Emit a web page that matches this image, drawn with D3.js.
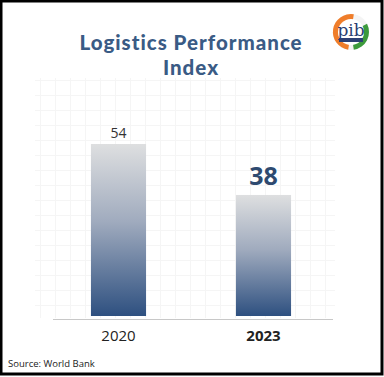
<!DOCTYPE html>
<html><head><meta charset="utf-8">
<script src="https://cdn.jsdelivr.net/npm/d3@7"></script>
<style>html,body{margin:0;padding:0;background:#fff;}svg{display:block;}</style>
</head><body>
<script>
const years = ["2020", "2023"];
const values = [54, 38];
const title = ["Logistics Performance", "Index"];
const source = "Source: World Bank";

const W = 384, H = 377;
const svg = d3.select("body").append("svg").attr("width", W).attr("height", H);
svg.append("rect").attr("x",0).attr("y",0).attr("width",W).attr("height",H).attr("fill","#fff");

// faint grid background
const grid = svg.append("g").attr("stroke","#f5f5f5").attr("stroke-width",1);
d3.range(40, 335, 15).forEach(x => grid.append("line").attr("x1",x+0.5).attr("x2",x+0.5).attr("y1",78).attr("y2",318));
d3.range(80, 320, 15).forEach(y => grid.append("line").attr("x1",35).attr("x2",335).attr("y1",y+0.5).attr("y2",y+0.5));

const defs = svg.append("defs");
const grad = defs.append("linearGradient").attr("id","barGrad").attr("x1",0).attr("y1",0).attr("x2",0).attr("y2",1);
grad.append("stop").attr("offset","0%").attr("stop-color","#dedfe0");
grad.append("stop").attr("offset","45%").attr("stop-color","#a0abbe");
grad.append("stop").attr("offset","100%").attr("stop-color","#2e5080");

const x = d3.scaleBand().domain(years).range([46, 336]).paddingInner(0.62).paddingOuter(0.31);
const y = d3.scaleLinear().domain([0, 54]).range([316, 144]);

svg.selectAll("rect.bar").data(years).join("rect").attr("class","bar")
  .attr("x", d => x(d)).attr("width", x.bandwidth())
  .attr("y", (d,i) => y(values[i])).attr("height", (d,i) => y(0) - y(values[i]))
  .attr("fill","url(#barGrad)");

// baseline
svg.append("line").attr("x1",53).attr("x2",333).attr("y1",319.5).attr("y2",319.5).attr("stroke","#c8c8c8").attr("stroke-width",1.2);

// value labels
svg.selectAll("text.val").data(years).join("text").attr("class","val")
  .attr("x", d => x(d) + x.bandwidth()/2)
  .attr("y", (d,i) => i === 0 ? y(values[i]) - 6 : y(values[i]) - 10)
  .attr("text-anchor","middle")
  .attr("font-family","'Open Sans', sans-serif")
  .attr("font-size", (d,i) => i === 0 ? 14 : 25)
  .attr("font-weight", (d,i) => i === 0 ? 400 : 700)
  .attr("fill", (d,i) => i === 0 ? "#333" : "#2e4a70")
  .text((d,i) => values[i]);

// x axis labels
svg.selectAll("text.cat").data(years).join("text").attr("class","cat")
  .attr("x", d => x(d) + x.bandwidth()/2).attr("y", 341)
  .attr("text-anchor","middle")
  .attr("font-family","'Open Sans', sans-serif")
  .attr("font-size",15)
  .attr("font-weight",(d,i)=> i===1?700:400)
  .attr("fill","#222")
  .text(d => d);

// title
svg.selectAll("text.title").data(title).join("text").attr("class","title")
  .attr("x",191).attr("y",(d,i)=>50+i*25)
  .attr("text-anchor","middle")
  .attr("font-family","Lato, sans-serif")
  .attr("font-weight",900).attr("font-size",20.5)
  .attr("letter-spacing","1")
  .attr("fill","#3a5b85").text(d=>d);

// source
svg.append("text").attr("x",8).attr("y",367)
  .attr("font-family","'Open Sans', sans-serif").attr("font-size",9.5).attr("fill","#222").text(source);

// logo
const logo = svg.append("g").attr("transform","translate(351,32)");
logo.append("circle").attr("r",18).attr("fill","#f4f4f4");
const arc = d3.arc().innerRadius(12).outerRadius(18);
logo.append("path").attr("d",arc({startAngle:-Math.PI*0.95,endAngle:Math.PI*0.05})).attr("fill","#ef7d2a");
logo.append("path").attr("d",arc({startAngle:Math.PI*0.35,endAngle:Math.PI*0.95})).attr("fill","#3c9a3c");
logo.append("circle").attr("r",13).attr("fill","#fff");
logo.append("text").attr("y",4).attr("text-anchor","middle").attr("font-family","'DejaVu Serif', serif")
  .attr("font-size",17).attr("fill","#2b3f73").text("pib");
logo.append("rect").attr("x",-12).attr("y",6).attr("width",24).attr("height",4).attr("fill","#2b3f73");

// frame
svg.append("rect").attr("x",1).attr("y",1).attr("width",W-3).attr("height",H-4)
  .attr("fill","none").attr("stroke","#000").attr("stroke-width",3);
</script>
</body></html>
